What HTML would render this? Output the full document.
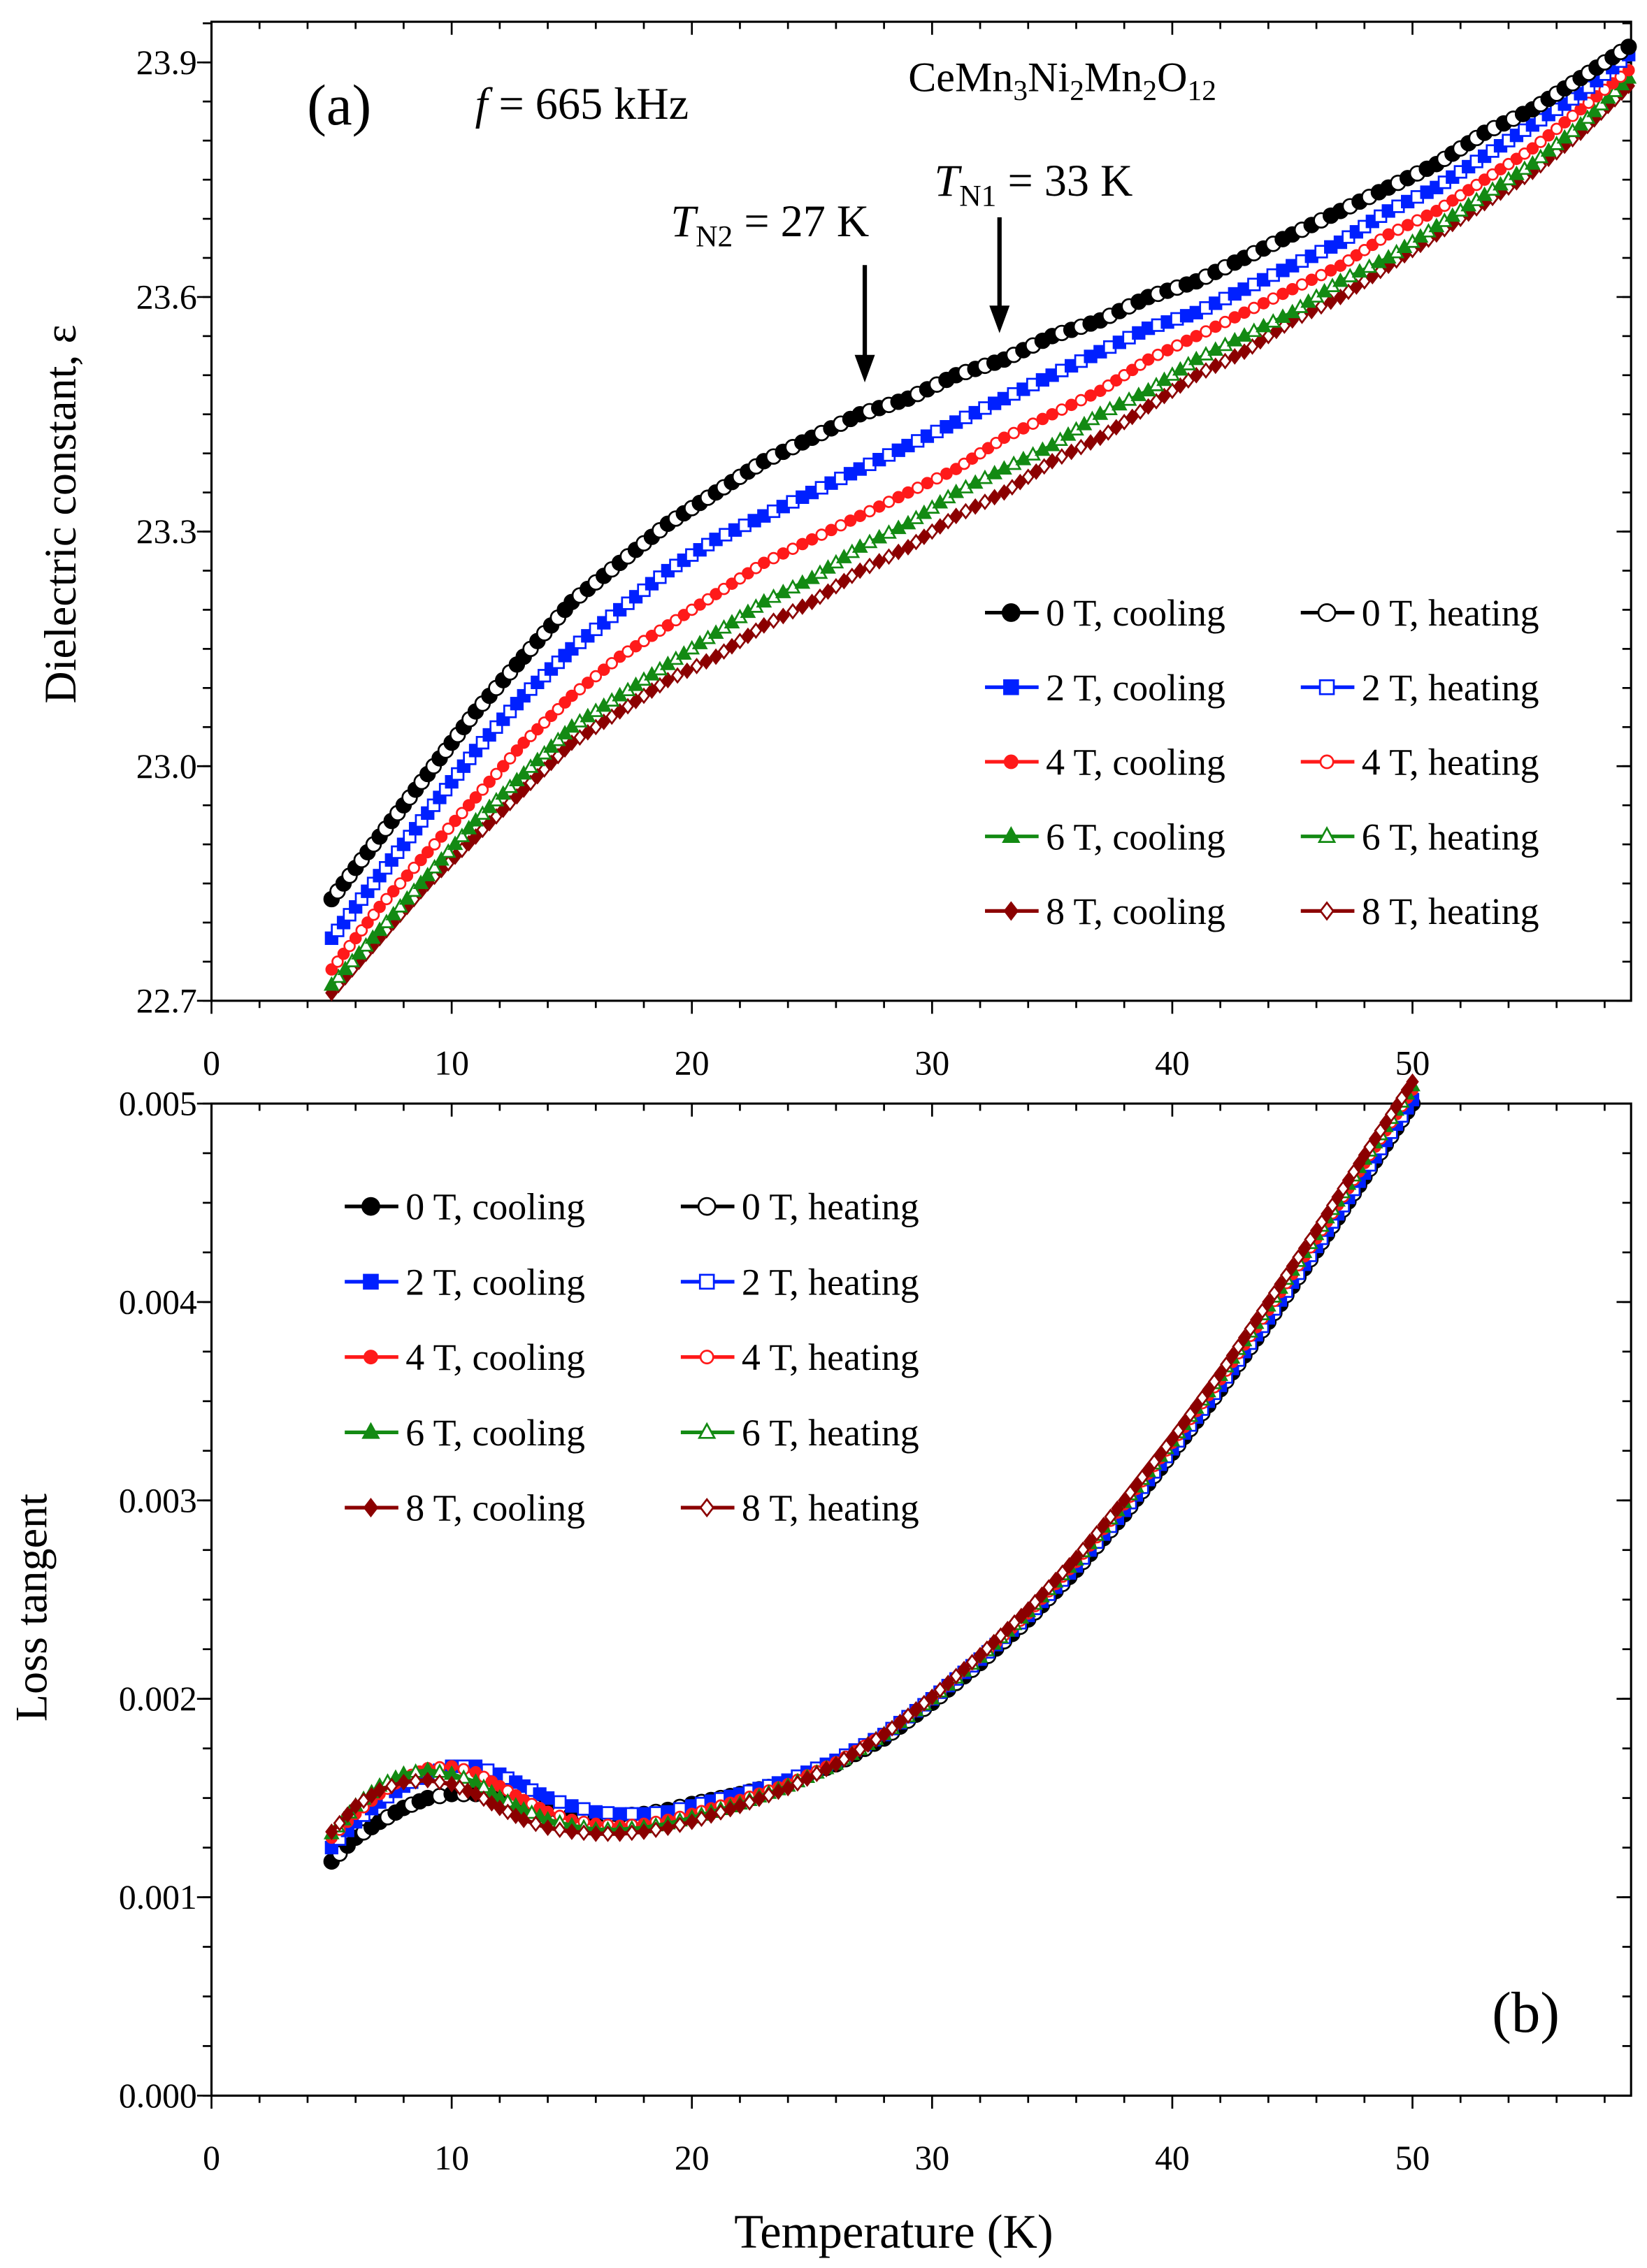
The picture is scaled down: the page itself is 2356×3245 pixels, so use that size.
<!DOCTYPE html>
<html><head><meta charset="utf-8"><style>
html,body{margin:0;padding:0;background:#fff;overflow:hidden;width:2356px;height:3245px;}
svg{display:block;}
svg text{font-family:"Liberation Serif","Times New Roman","Times","DejaVu Serif","Noto Serif CJK SC",serif;}
</style></head><body>
<svg id="chart" xmlns="http://www.w3.org/2000/svg" width="2356" height="3245" viewBox="0 0 1137 1566">
<rect width="1137" height="1566" fill="#fff"/>
<g id="top"></g>
<g id="bot"></g>
<text x="212" y="86" font-size="40">(a)</text>
<text x="328" y="82" font-size="31"><tspan font-style="italic">f</tspan> = 665 kHz</text>
<text x="627" y="63" font-size="29">CeMn<tspan font-size="20" dy="6">3</tspan><tspan dy="-6">Ni</tspan><tspan font-size="20" dy="6">2</tspan><tspan dy="-6">Mn</tspan><tspan font-size="20" dy="6">2</tspan><tspan dy="-6">O</tspan><tspan font-size="20" dy="6">12</tspan></text>
<text x="463" y="163" font-size="31"><tspan font-style="italic">T</tspan><tspan font-size="21" dy="7">N2</tspan><tspan dy="-7"> = 27 K</tspan></text>
<text x="645" y="135" font-size="31"><tspan font-style="italic">T</tspan><tspan font-size="21" dy="7">N1</tspan><tspan dy="-7"> = 33 K</tspan></text>
<g><line x1="597" y1="183" x2="597" y2="248" stroke="#000" stroke-width="3"/><polygon points="590,245 604,245 597,264" fill="#000"/></g>
<g><line x1="690" y1="150" x2="690" y2="214" stroke="#000" stroke-width="3"/><polygon points="683,211 697,211 690,230" fill="#000"/></g>
<text x="1030" y="1403" font-size="40">(b)</text>
<text transform="translate(52,355) rotate(-90)" text-anchor="middle" font-size="31">Dielectric constant, ε</text>
<text transform="translate(32,1110) rotate(-90)" text-anchor="middle" font-size="31">Loss tangent</text>
<text x="617" y="1552" text-anchor="middle" font-size="33">Temperature (K)</text>
</svg>
<script>
// ---- data ----
const tTop = [5,7,9,11,13,15,17,19,21,23,25,27,29,31,33,35,37,39,41,43,45,47,49,51,53,55,57,59];
const eps0T = [22.83,22.91,22.99,23.07,23.14,23.21,23.26,23.31,23.35,23.39,23.42,23.45,23.47,23.50,23.52,23.55,23.57,23.60,23.62,23.65,23.68,23.71,23.74,23.77,23.81,23.84,23.88,23.92];
const eps2T = [22.78,22.86,22.94,23.02,23.09,23.15,23.20,23.25,23.29,23.32,23.35,23.38,23.41,23.44,23.47,23.50,23.53,23.56,23.58,23.61,23.64,23.67,23.71,23.74,23.78,23.82,23.86,23.91];
const eps4T = [22.74,22.82,22.89,22.96,23.03,23.09,23.14,23.18,23.22,23.26,23.29,23.32,23.35,23.38,23.42,23.45,23.48,23.52,23.55,23.58,23.61,23.64,23.68,23.71,23.75,23.79,23.84,23.89];
const eps6T = [22.72,22.79,22.86,22.93,22.99,23.05,23.09,23.13,23.17,23.21,23.24,23.28,23.31,23.35,23.38,23.41,23.45,23.48,23.52,23.55,23.58,23.62,23.65,23.69,23.73,23.77,23.82,23.88];
const eps8T = [22.71,22.78,22.85,22.91,22.97,23.03,23.07,23.11,23.14,23.18,23.21,23.25,23.28,23.32,23.35,23.39,23.42,23.46,23.50,23.53,23.57,23.60,23.64,23.68,23.72,23.76,23.81,23.87];
const tBot = [5,6,7,8,9,10,11,12,13,14,15,16,17,18,19,20,22,24,26,28,30,32,34,36,38,40,42,44,46,48,50];
const loss0T = [1.18,1.30,1.38,1.45,1.50,1.52,1.52,1.50,1.47,1.44,1.42,1.41,1.41,1.42,1.44,1.47,1.52,1.58,1.67,1.80,1.98,2.18,2.40,2.65,2.93,3.24,3.56,3.90,4.26,4.63,5.00];
const loss2T = [1.25,1.38,1.48,1.56,1.62,1.66,1.66,1.62,1.56,1.50,1.46,1.43,1.42,1.42,1.43,1.46,1.52,1.59,1.69,1.82,2.00,2.20,2.42,2.67,2.95,3.26,3.58,3.92,4.28,4.65,5.02];
const loss4T = [1.30,1.42,1.52,1.60,1.65,1.66,1.63,1.56,1.49,1.43,1.39,1.37,1.36,1.37,1.39,1.42,1.49,1.57,1.68,1.82,2.00,2.21,2.43,2.69,2.98,3.29,3.61,3.96,4.32,4.70,5.07];
const loss6T = [1.32,1.46,1.56,1.62,1.64,1.62,1.58,1.50,1.44,1.39,1.36,1.34,1.34,1.35,1.37,1.40,1.47,1.56,1.67,1.82,2.00,2.21,2.44,2.70,2.99,3.30,3.63,3.98,4.34,4.72,5.09];
const loss8T = [1.33,1.46,1.54,1.58,1.59,1.57,1.52,1.45,1.39,1.35,1.33,1.32,1.32,1.33,1.35,1.38,1.46,1.55,1.67,1.82,2.01,2.22,2.45,2.71,3.00,3.31,3.64,4.00,4.36,4.74,5.11];
const xTicks = [0,10,20,30,40,50];
const yTicksTop = [22.7,23.0,23.3,23.6,23.9];
const yTicksBot = [0,1,2,3,4,5];
const yTickLabelsBot = ["0.000","0.001","0.002","0.003","0.004","0.005"];
const fields = ["0 T","2 T","4 T","6 T","8 T"];

const NS="http://www.w3.org/2000/svg";
const L=146,R=1126;
const X0=0,X1=59.1;
const xs=t=>L+(t-X0)/(X1-X0)*(R-L);
const topT=15,topB=691,yT0=22.7,yT1=23.952;
const ysTop=v=>topB-(v-yT0)/(yT1-yT0)*(topB-topT);
const botT=762,botB=1447;
const ysBot=v=>botB-v/5*(botB-botT);
const colors=["#000","#0020ff","#ff1a1a","#138a13","#8b0000"];
const shapes=["circle","square","circle","triangle","diamond"];
const sizes=[5,4,3.6,4,3.6];

function mk(tag,attrs,parent){const e=document.createElementNS(NS,tag);for(const k in attrs)e.setAttribute(k,attrs[k]);parent.appendChild(e);return e;}
function marker(parent,shape,x,y,s,color,fill){
  let e;
  if(shape==="circle") e=mk("circle",{cx:x,cy:y,r:s},parent);
  else if(shape==="square") e=mk("rect",{x:x-s,y:y-s,width:2*s,height:2*s},parent);
  else if(shape==="triangle") e=mk("polygon",{points:`${x},${y-s*1.2} ${x-s*1.1},${y+s*0.8} ${x+s*1.1},${y+s*0.8}`},parent);
  else e=mk("polygon",{points:`${x},${y-s*1.3} ${x+s},${y} ${x},${y+s*1.3} ${x-s},${y}`},parent);
  e.setAttribute("fill",fill?color:"#fff");e.setAttribute("stroke",color);e.setAttribute("stroke-width","1.3");
  return e;
}

function axes(g,ys,top,bot,yTicks,yLabels,minorStep,yMin,yMax,xLabY){
  mk("rect",{x:L,y:top,width:R-L,height:bot-top,fill:"none",stroke:"#000","stroke-width":1.5},g);
  for(let t=0;t<=X1;t+=2){const x=xs(t);const big=t%10===0;
    mk("line",{x1:x,y1:bot,x2:x,y2:bot+(big?9:5),stroke:"#000","stroke-width":1.3},g);
    mk("line",{x1:x,y1:top,x2:x,y2:top+(big?9:5),stroke:"#000","stroke-width":1.3},g);}
  xTicks.forEach(t=>{const tx=mk("text",{x:xs(t),y:xLabY,"text-anchor":"middle","font-size":24},g);tx.textContent=t;
    
    });
  for(let v=yMin;v<=yMax+1e-9;v+=minorStep){const y=ys(v);
    mk("line",{x1:L,y1:y,x2:L-6,y2:y,stroke:"#000","stroke-width":1.3},g);
    mk("line",{x1:R,y1:y,x2:R-6,y2:y,stroke:"#000","stroke-width":1.3},g);}
  yTicks.forEach((v,i)=>{const y=ys(v);
    mk("line",{x1:L,y1:y,x2:L-10,y2:y,stroke:"#000","stroke-width":1.3},g);
    mk("line",{x1:R,y1:y,x2:R-10,y2:y,stroke:"#000","stroke-width":1.3},g);
    const tx=mk("text",{x:L-10,y:y+8,"text-anchor":"end","font-size":24},g);tx.textContent=yLabels[i];
    
    });
}
function series(g,ts,vals,ys,i,name){
  const sg=mk("g",{},g);
  
  
  const pts=ts.map((t,k)=>xs(t)+","+ys(vals[k])).join(" ");
  mk("polyline",{points:pts,fill:"none",stroke:colors[i],"stroke-width":3},sg);
  for(let k=0;k<ts.length;k++){
    const x=xs(ts[k]),y=ys(vals[k]);
    marker(sg,shapes[i],x,y,sizes[i],colors[i],true);
    if(k<ts.length-1){
      const x2=xs(ts[k+1]),y2=ys(vals[k+1]);
      const n=Math.max(2,Math.round(Math.hypot(x2-x,y2-y)/7));
      for(let m=1;m<n;m++){const f=m/n;
        marker(sg,shapes[i],x+(x2-x)*f,y+(y2-y)*f,sizes[i],colors[i],m%2===0);}
    }
  }
}
function legend(g,x1,x2,y0,dy){
  fields.forEach((f,i)=>{
    [[x1,"cooling",true],[x2,"heating",false]].forEach(([x,lab,fill])=>{
      const lg=mk("g",{},g);
      
      
      const y=y0+i*dy;
      mk("line",{x1:x,y1:y,x2:x+37,y2:y,stroke:colors[i],"stroke-width":2.5},lg);
      marker(lg,shapes[i],x+18,y,sizes[i]+0.8,colors[i],fill);
      const tx=mk("text",{x:x+42,y:y+9,"font-size":26},lg);tx.textContent=f+", "+lab;
    });
  });
}
const gt=document.getElementById("top"),gb=document.getElementById("bot");
axes(gt,ysTop,topT,topB,yTicksTop,yTicksTop.map(v=>v.toFixed(1)),0.05,22.7,23.95,742);
axes(gb,ysBot,botT,botB,yTicksBot,yTickLabelsBot,0.25,0,5,1498);
const tops=[eps8T,eps6T,eps4T,eps2T,eps0T],bots=[loss0T,loss2T,loss4T,loss6T,loss8T];
[4,3,2,1,0].forEach((i,j)=>series(gt,tTop,tops[j],ysTop,i,"series-"+i*2+"T-eps"));
bots.forEach((v,i)=>series(gb,tBot,v,ysBot,i,"series-"+i*2+"T-loss"));
legend(gt,680,898,423,51.5);
legend(gb,238,470,833,52);
</script>
</body></html>
